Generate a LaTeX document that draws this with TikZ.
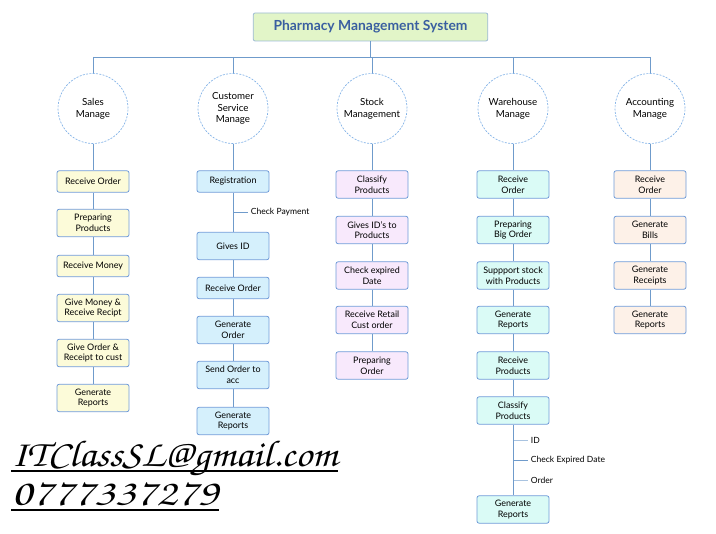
\documentclass[tikz,border=0pt]{standalone}
\usepackage[T1,TU]{fontenc}
\usepackage{fontspec}
\setmainfont{Lato}
\usepackage{xcolor}
\usepackage{graphicx}
\usetikzlibrary{positioning}

\definecolor{linkblue}{HTML}{6F9BCB}
\definecolor{ringblue}{HTML}{7FB0E6}
\definecolor{boxblue}{HTML}{6F9BD8}
\definecolor{titleedge}{HTML}{9DBAD6}
\definecolor{titlefill}{HTML}{E2F5C8}
\definecolor{titleblue}{HTML}{3A5FA0}
\definecolor{salesfill}{HTML}{FCFBD9}
\definecolor{custfill}{HTML}{D5F0FC}
\definecolor{stockfill}{HTML}{F8E9FC}
\definecolor{warefill}{HTML}{DAFBF6}
\definecolor{acctfill}{HTML}{FDF1E8}

\newcommand\handfont{\fontencoding{T1}\fontfamily{pzc}\fontseries{mb}\fontshape{it}\selectfont}

\begin{document}
\begin{tikzpicture}[x=0.75pt, y=-0.75pt, font=\fontsize{6.7}{8}\selectfont,
  link/.style={draw=linkblue, line width=0.6pt},
  unit/.style={circle, draw=ringblue, dash pattern=on 1.5pt off 1pt,
               line width=0.5pt, minimum size=52.5pt, inner sep=0pt,
               align=center, font=\fontsize{7.3}{8.8}\selectfont},
  task/.style={draw=boxblue, rounded corners=1.5pt, line width=0.6pt,
               minimum width=54pt, minimum height=20.5pt, inner sep=1pt,
               align=center},
  short/.style={minimum height=16pt},
  note/.style={anchor=west, inner sep=2pt, font=\fontsize{6.4}{8}\selectfont},
  hand/.style={anchor=base west, inner sep=0pt,
               font=\handfont\fontsize{28}{32}\selectfont}]
\useasboundingbox (0,0) rectangle (716,534);
% --- title and bus ---
\node[draw=titleedge, fill=titlefill, rounded corners=1.5pt, line width=0.6pt,
      minimum width=176pt, minimum height=21pt, text=titleblue,
      font=\fontsize{10.4}{12}\selectfont\bfseries] (pms) at (370.5,27)
  {Pharmacy Management System};
\coordinate (bus) at (370.5,57);
% --- modules ---
\node[unit] (sales) at (93,108.5)  {Sales\\Manage};
\node[unit] (cust)  at (233,108.5) {Customer\\Service\\Manage};
\node[unit] (stock) at (372,108.5) {Stock\\Management};
\node[unit] (ware)  at (513,108.5) {Warehouse\\Manage};
\node[unit] (acct)  at (650,108.5) {Accounting\\Manage};
\draw[link] (pms) -- (bus);
\draw[link] (sales |- bus) -- (acct |- bus);
\foreach \m in {sales,cust,stock,ware,acct}
  \draw[link] (\m |- bus) -- (\m);
% --- sales ---
\node[task, short, fill=salesfill] (s1) at (93,181.5) {Receive Order};
\node[task, fill=salesfill] (s2) at (93,223) {Preparing\\Products};
\node[task, short, fill=salesfill] (s3) at (93,266) {Receive Money};
\node[task, fill=salesfill] (s4) at (93,308) {Give Money \&\\Receive Recipt};
\node[task, fill=salesfill] (s5) at (93,353) {Give Order \&\\Receipt to cust};
\node[task, fill=salesfill] (s6) at (93,398) {Generate\\Reports};
% --- customer service ---
\node[task, short, fill=custfill] (c1) at (233,181.5) {Registration};
\node[task, fill=custfill] (c2) at (233,246) {Gives ID};
\node[task, short, fill=custfill] (c3) at (233,288) {Receive Order};
\node[task, fill=custfill] (c4) at (233,330) {Generate\\Order};
\node[task, fill=custfill] (c5) at (233,375) {Send Order to\\acc};
\node[task, fill=custfill] (c6) at (233,421) {Generate\\Reports};
\node[note] (pay) at (248,212) {Check Payment};
\draw[link] (pay.west -| c1) -- (pay.west);
% --- stock ---
\node[task, fill=stockfill] (k1) at (372,184.5) {Classify\\Products};
\node[task, fill=stockfill] (k2) at (372,230) {Gives ID's to\\Products};
\node[task, fill=stockfill] (k3) at (372,275.5) {Check expired\\Date};
\node[task, fill=stockfill] (k4) at (372,320) {Receive Retail\\Cust order};
\node[task, fill=stockfill] (k5) at (372,365.5) {Preparing\\Order};
% --- warehouse ---
\node[task, fill=warefill] (w1) at (513,184.5) {Receive\\Order};
\node[task, fill=warefill] (w2) at (513,230) {Preparing\\Big Order};
\node[task, fill=warefill] (w3) at (513,275.5) {Suppport stock\\with Products};
\node[task, fill=warefill] (w4) at (513,320) {Generate\\Reports};
\node[task, fill=warefill] (w5) at (513,365.5) {Receive\\Products};
\node[task, fill=warefill] (w6) at (513,410.5) {Classify\\Products};
\node[task, fill=warefill] (w7) at (513,509.5) {Generate\\Reports};
\node[note] (wid)  at (528,440) {ID};
\node[note] (wexp) at (528,460) {Check Expired Date};
\node[note] (word) at (528,480) {Order};
\draw[link, draw=linkblue!60] (wid.west -| w6) -- (wid.west);
\draw[link] (wexp.west -| w6) -- (wexp.west);
\draw[link, draw=linkblue!60] (word.west -| w6) -- (word.west);
% --- accounting ---
\node[task, fill=acctfill] (a1) at (650,184.5) {Receive\\Order};
\node[task, fill=acctfill] (a2) at (650,230) {Generate\\Bills};
\node[task, fill=acctfill] (a3) at (650,275.5) {Generate\\Receipts};
\node[task, fill=acctfill] (a4) at (650,320) {Generate\\Reports};
% --- chains ---
\foreach \a/\b in {sales/s1,s1/s2,s2/s3,s3/s4,s4/s5,s5/s6,
                   cust/c1,c1/c2,c2/c3,c3/c4,c4/c5,c5/c6,
                   stock/k1,k1/k2,k2/k3,k3/k4,k4/k5,
                   ware/w1,w1/w2,w2/w3,w3/w4,w4/w5,w5/w6,w6/w7,
                   acct/a1,a1/a2,a2/a3,a3/a4}
  \draw[link] (\a) -- (\b);
% --- contact ---
\node[hand] (mail) at (11,466) {\scalebox{1.1}[1]{ITClassSL@gmail.com}};
\node[hand] (phone) at (11,505) {\scalebox{1.26}[1]{0777337279}};
\draw[line width=1.6pt] ([yshift=-3.5pt]mail.base west) -- ([yshift=-3.5pt]mail.base east);
\draw[line width=1.6pt] ([yshift=-3.5pt]phone.base west) -- ([yshift=-3.5pt]phone.base east);
\end{tikzpicture}
\end{document}
